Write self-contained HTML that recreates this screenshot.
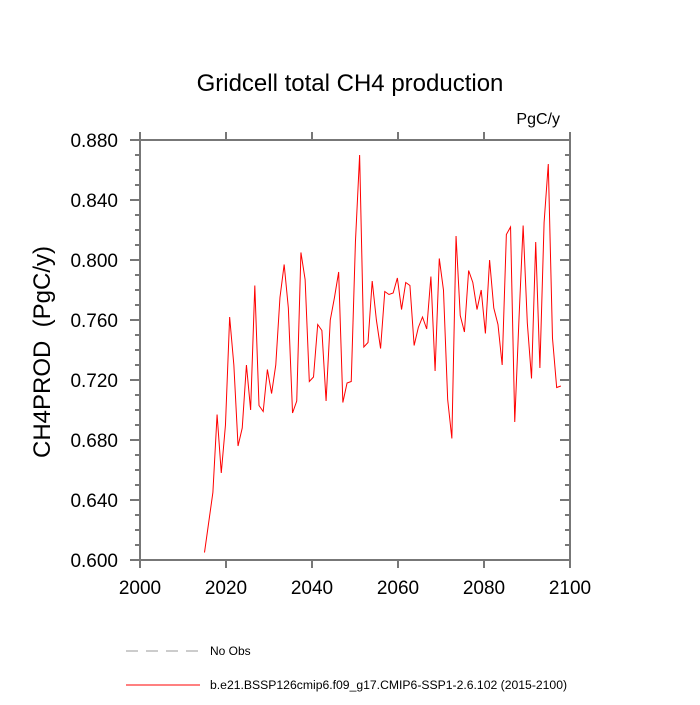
<!DOCTYPE html>
<html><head><meta charset="utf-8"><style>
body{margin:0;background:#fff;}
svg text{font-family:"Liberation Sans",Helvetica,Arial,sans-serif;fill:#000;}
</style></head><body>
<svg id="chart" width="700" height="700" viewBox="0 0 700 700">
<rect width="700" height="700" fill="#fff"/>
<text x="350" y="91" font-size="24" text-anchor="middle">Gridcell total CH4 production</text>
<text x="560" y="124" font-size="16" text-anchor="end">PgC/y</text>
<text transform="translate(50,352) rotate(-90)" font-size="24" text-anchor="middle" xml:space="preserve">CH4PROD  (PgC/y)</text>
<g id="ticks"></g>
<polyline id="series" fill="none" stroke="#ff0000" stroke-width="1"/>
<rect x="140" y="140" width="430" height="420" fill="none" stroke="#777" stroke-width="2"/>
<line x1="126" y1="651" x2="200" y2="651" stroke="#999" stroke-width="1" stroke-dasharray="12,8"/>
<text x="210" y="655" font-size="12">No Obs</text>
<line x1="126" y1="685" x2="200" y2="685" stroke="#ff0000" stroke-width="1"/>
<text x="210" y="689" font-size="12.2">b.e21.BSSP126cmip6.f09_g17.CMIP6-SSP1-2.6.102 (2015-2100)</text>
</svg>
<script>
const startYear = 2015;
const yearStep = 0.975;
const values = [0.605,0.625,0.645,0.697,0.658,0.690,0.762,0.730,0.676,0.688,
0.730,0.700,0.783,0.703,0.699,0.727,0.711,0.730,0.775,0.797,
0.768,0.698,0.706,0.805,0.787,0.719,0.722,0.757,0.753,0.706,
0.760,0.775,0.792,0.705,0.718,0.719,0.812,0.870,0.742,0.745,
0.786,0.760,0.741,0.779,0.777,0.778,0.788,0.767,0.785,0.783,
0.743,0.755,0.762,0.754,0.789,0.726,0.801,0.780,0.707,0.681,
0.816,0.763,0.752,0.793,0.785,0.767,0.780,0.751,0.800,0.768,
0.757,0.730,0.817,0.822,0.692,0.760,0.823,0.758,0.721,0.812,
0.728,0.825,0.864,0.748,0.715,0.716];
const xTicks = [2000,2020,2040,2060,2080,2100];
const yTicks = [0.600,0.640,0.680,0.720,0.760,0.800,0.840,0.880];

const X0=140,X1=570,Y0=560,Y1=140,xmin=2000,xmax=2100,ymin=0.6,ymax=0.88;
const sx=v=>X0+(v-xmin)/(xmax-xmin)*(X1-X0);
const sy=v=>Y0-(v-ymin)/(ymax-ymin)*(Y0-Y1);
const NS='http://www.w3.org/2000/svg';
const g=document.getElementById('ticks');
function ln(x1,y1,x2,y2,name){const l=document.createElementNS(NS,'line');
l.setAttribute('x1',x1);l.setAttribute('y1',y1);l.setAttribute('x2',x2);l.setAttribute('y2',y2);
l.setAttribute('stroke','#777');l.setAttribute('stroke-width','2');


g.appendChild(l);}
function tx(x,y,s,anchor,name){const t=document.createElementNS(NS,'text');
t.setAttribute('x',x);t.setAttribute('y',y);t.setAttribute('font-size','19');t.setAttribute('text-anchor',anchor);t.textContent=s;


g.appendChild(t);}
xTicks.forEach(v=>{const x=sx(v);ln(x,560,x,568,'x-tick');ln(x,140,x,132,'x-tick-top');tx(x,594,String(v),'middle','x-tick-label');});
for(let v=ymin;v<=ymax+1e-9;v+=0.01){const y=sy(v);const major=Math.abs(Math.round(v*1000)%40)<1;
ln(major?130:135,y,140,y,'y-tick');ln(570,y,major?560:565,y,'y-tick-right');}
yTicks.forEach(v=>tx(118,sy(v)+7,v.toFixed(3),'end','y-tick-label'));
const pts=values.map((v,i)=>sx(startYear+i*yearStep).toFixed(2)+','+sy(v).toFixed(2)).join(' ');
document.getElementById('series').setAttribute('points',pts);
</script>
</body></html>
